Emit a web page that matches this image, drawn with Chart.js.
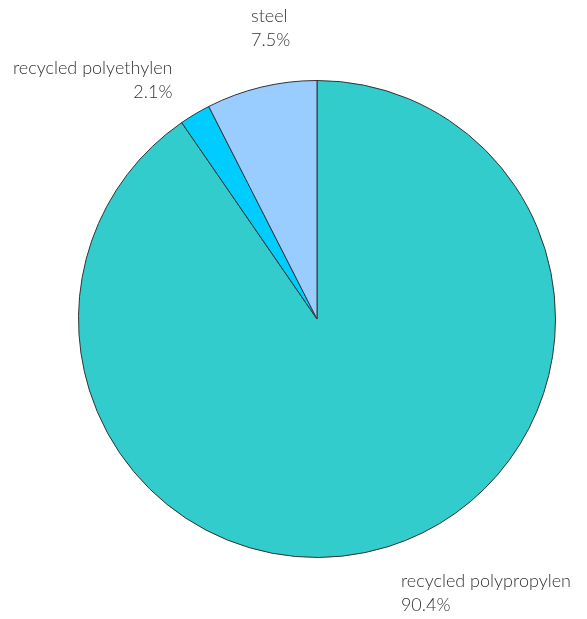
<!DOCTYPE html>
<html>
<head>
<meta charset="utf-8">
<script src="https://cdn.jsdelivr.net/npm/chart.js@4"></script>
<style>
  html, body { margin: 0; padding: 0; background: #fff; }
  #wrap { width: 587px; height: 619px; }
</style>
</head>
<body>
<div id="wrap"><canvas id="pie"></canvas></div>
<script>
  const materials = ['recycled polypropylen', 'recycled polyethylen', 'steel'];
  const shares = [90.4, 2.1, 7.5];
  const sliceColors = ['#33cccc', '#00ccff', '#99ccff'];

  // draws "name / xx.x%" outside each slice, placed from the arc geometry
  const outsideLabels = {
    id: 'outsideLabels',
    afterDatasetsDraw(chart) {
      const ctx = chart.ctx;
      const meta = chart.getDatasetMeta(0);
      ctx.save();
      ctx.font = '300 18px Lato, "Noto Sans", sans-serif';
      ctx.fillStyle = '#333';
      const lineH = 24;
      meta.data.forEach((arc, i) => {
        const mid = (arc.startAngle + arc.endAngle) / 2;
        const hx = Math.cos(mid);
        const hy = Math.sin(mid);
        const dist = arc.outerRadius + 44;
        const ax = arc.x + hx * dist;
        const ay = arc.y + hy * dist;
        const lines = [materials[i], shares[i].toFixed(1) + '%'];
        ctx.textAlign = hx < -0.3 ? 'right' : 'left';
        ctx.textBaseline = 'middle';
        let top;
        if (hy < -0.9) {
          top = ay - lines.length * lineH + 8;
        } else {
          top = ay - (lines.length * lineH) / 2 + 4;
        }
        lines.forEach((t, k) => {
          ctx.fillText(t, ax, top + lineH * k + lineH / 2);
        });
      });
      ctx.restore();
    },
  };

  new Chart(document.getElementById('pie'), {
    type: 'pie',
    data: {
      labels: materials,
      datasets: [{
        data: shares,
        backgroundColor: sliceColors,
        borderColor: '#333',
        borderWidth: 1,
      }],
    },
    options: {
      responsive: true,
      maintainAspectRatio: false,
      animation: false,
      layout: { padding: { left: 78, right: 31, top: 80, bottom: 61 } },
      plugins: {
        legend: { display: false },
        tooltip: { enabled: false },
      },
    },
    plugins: [outsideLabels],
  });
</script>
</body>
</html>
